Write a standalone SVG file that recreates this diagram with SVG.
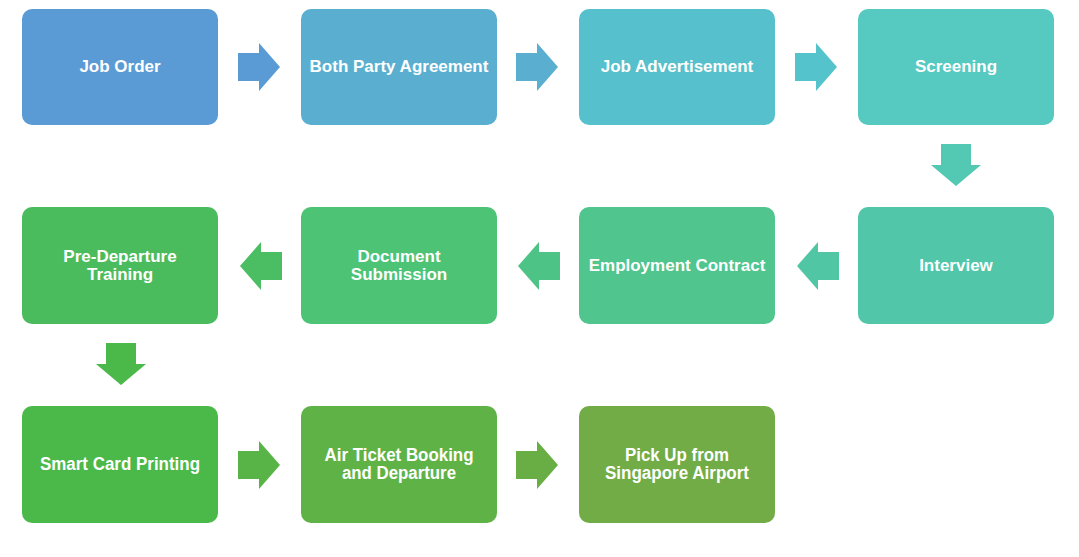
<svg xmlns="http://www.w3.org/2000/svg" width="1079" height="557" viewBox="0 0 1079 557">
<style>
.box{stroke:none}
.t{font-family:"Liberation Sans",Arial,sans-serif;font-weight:bold;font-size:17px;fill:#ffffff;text-anchor:middle}
.t3{font-size:17.5px}
</style>
<defs>
<path id="ar" d="M0,-14 H21 V-24 L42,0 L21,24 V14 H0 Z"/>
<path id="al" d="M42,-14 H21 V-24 L0,0 L21,24 V14 H42 Z"/>
<path id="ad" d="M-15,0 H15 V21 H25 L0,42 L-25,21 H-15 Z"/>
</defs>
<rect width="1079" height="557" fill="#ffffff"/>
<g id="connectors">
<use href="#ar" x="238" y="67" fill="#5B9BD5"/>
<use href="#ar" x="516" y="67" fill="#5AAFD1"/>
<use href="#ar" x="795" y="67" fill="#55C3CC"/>
<use href="#ad" x="956" y="144" fill="#53C9B4"/>
<use href="#al" x="797" y="266" fill="#50C6A4"/>
<use href="#al" x="518" y="266" fill="#4DC385"/>
<use href="#al" x="240" y="266" fill="#4BBE63"/>
<use href="#ad" x="121" y="343" fill="#4BB84A"/>
<use href="#ar" x="238" y="465" fill="#58B446"/>
<use href="#ar" x="516" y="465" fill="#69AE45"/>
</g>
<g id="n1"><rect class="box" x="22" y="9" width="196" height="116" rx="10" fill="#5B9BD5"/><text class="t" x="120" y="72">Job Order</text></g>
<g id="n2"><rect class="box" x="301" y="9" width="196" height="116" rx="10" fill="#5AAFD1"/><text class="t" x="399" y="72">Both Party Agreement</text></g>
<g id="n3"><rect class="box" x="579" y="9" width="196" height="116" rx="10" fill="#56C1CD"/><text class="t" x="677" y="72">Job Advertisement</text></g>
<g id="n4"><rect class="box" x="858" y="9" width="196" height="116" rx="10" fill="#56C9C0"/><text class="t" x="956" y="72">Screening</text></g>
<g id="n5"><rect class="box" x="858" y="207" width="196" height="117" rx="10" fill="#51C6A9"/><text class="t" x="956" y="271">Interview</text></g>
<g id="n6"><rect class="box" x="579" y="207" width="196" height="117" rx="10" fill="#50C58E"/><text class="t" x="677" y="271">Employment Contract</text></g>
<g id="n7"><rect class="box" x="301" y="207" width="196" height="117" rx="10" fill="#4CC375"/><text class="t" x="399" y="262">Document</text><text class="t" x="399" y="280">Submission</text></g>
<g id="n8"><rect class="box" x="22" y="207" width="196" height="117" rx="10" fill="#4BBC5D"/><text class="t" x="120" y="262">Pre-Departure</text><text class="t" x="120" y="280">Training</text></g>
<g id="n9"><rect class="box" x="22" y="406" width="196" height="117" rx="10" fill="#4AB949"/><text class="t t3" x="120" y="470" textLength="160" lengthAdjust="spacingAndGlyphs">Smart Card Printing</text></g>
<g id="n10"><rect class="box" x="301" y="406" width="196" height="117" rx="10" fill="#5FB346"/><text class="t t3" x="399" y="461" textLength="149" lengthAdjust="spacingAndGlyphs">Air Ticket Booking</text><text class="t t3" x="399" y="479" textLength="114" lengthAdjust="spacingAndGlyphs">and Departure</text></g>
<g id="n11"><rect class="box" x="579" y="406" width="196" height="117" rx="10" fill="#71AC46"/><text class="t t3" x="677" y="461" textLength="104" lengthAdjust="spacingAndGlyphs">Pick Up from</text><text class="t t3" x="677" y="479" textLength="144" lengthAdjust="spacingAndGlyphs">Singapore Airport</text></g>
</svg>
